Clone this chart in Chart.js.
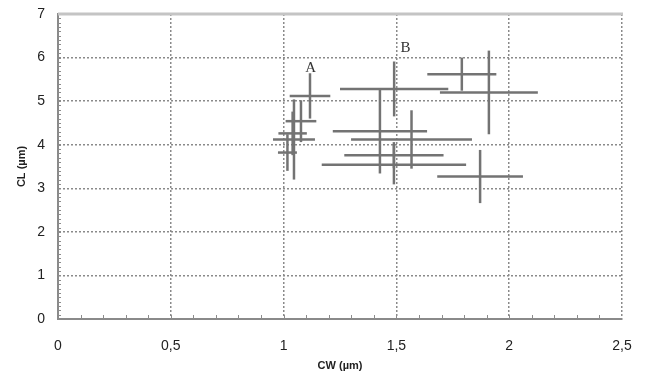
<!DOCTYPE html>
<html>
<head>
<meta charset="utf-8">
<script src="https://cdn.jsdelivr.net/npm/chart.js@4.4.1/dist/chart.umd.min.js"></script>
<style>
  html, body { margin: 0; padding: 0; background: #fff; }
  #wrap { width: 648px; height: 378px; }
</style>
</head>
<body>
<div id="wrap"><canvas id="chart" width="648" height="378"></canvas></div>
<script>
// cell width / cell length, mean and spread per sample
const cw    = [1.117, 1.077, 1.046, 1.04, 1.017, 1.49, 1.427, 1.567, 1.489, 1.489, 1.79, 1.91, 1.871];
const cl    = [5.12, 4.54, 4.12, 4.26, 3.82, 5.28, 4.31, 4.12, 3.76, 3.54, 5.62, 5.2, 3.27];
const cwErr = [0.09, 0.068, 0.093, 0.063, 0.042, 0.24, 0.209, 0.268, 0.22, 0.32, 0.153, 0.217, 0.19];
const clErr = [0.52, 0.48, 0.92, 0.5, 0.42, 0.63, 0.97, 0.67, 0.3, 0.45, 0.38, 0.96, 0.61];

const xTicks = [0, 0.5, 1, 1.5, 2, 2.5];
const yTicks = [0, 1, 2, 3, 4, 5, 6, 7];

const markText = ["A", "B"];
const markX = [1.12, 1.54];
const markY = [5.76, 6.22];

const SANS = "'Liberation Sans', Arial, sans-serif";
const BAR_COLOR = "#737373";

function crossDatasets() {
  const sets = [];
  cw.forEach((x, i) => {
    const y = cl[i];
    sets.push({
      data: [{ x: x - cwErr[i], y }, { x: x + cwErr[i], y }],
    });
    sets.push({
      data: [{ x, y: y - clErr[i] }, { x, y: y + clErr[i] }],
    });
  });
  return sets.map((s) => ({
    ...s,
    showLine: true,
    borderColor: BAR_COLOR,
    borderWidth: 2.5,
    pointRadius: 0,
    borderCapStyle: "butt",
  }));
}

const framePlugin = {
  id: "frame",
  beforeDatasetsDraw(chart) {
    const { ctx, chartArea: a, scales } = chart;
    ctx.save();
    // solid light top edge
    ctx.strokeStyle = "#c4c4c4";
    ctx.lineWidth = 3;
    ctx.beginPath();
    ctx.moveTo(a.left, a.top);
    ctx.lineTo(a.right + 1, a.top);
    ctx.stroke();
    // minor ticks along the axes
    ctx.strokeStyle = "#8c8c8c";
    ctx.lineWidth = 1;
    for (let k = 1; k < 25; k++) {
      const px = Math.round(scales.x.getPixelForValue(k / 10)) + 0.5;
      ctx.beginPath();
      ctx.moveTo(px, a.bottom);
      ctx.lineTo(px, a.bottom - 4);
      ctx.stroke();
    }
    for (let k = 1; k < 70; k++) {
      const py = Math.round(scales.y.getPixelForValue(k / 10)) + 0.5;
      ctx.beginPath();
      ctx.moveTo(a.left, py);
      ctx.lineTo(a.left + 3, py);
      ctx.stroke();
    }
    ctx.restore();
  },
  afterDatasetsDraw(chart) {
    const { ctx, scales } = chart;
    ctx.save();
    ctx.fillStyle = "#333";
    ctx.font = "15px 'Liberation Serif', 'Times New Roman', serif";
    ctx.textAlign = "center";
    ctx.textBaseline = "middle";
    markText.forEach((t, i) => {
      ctx.fillText(t, scales.x.getPixelForValue(markX[i]), scales.y.getPixelForValue(markY[i]));
    });
    ctx.restore();
  },
};

new Chart(document.getElementById("chart").getContext("2d"), {
  type: "scatter",
  data: { datasets: crossDatasets() },
  plugins: [framePlugin],
  options: {
    responsive: false,
    animation: false,
    layout: { padding: { top: 14, right: 26, left: 0, bottom: 0 } },
    plugins: { legend: { display: false }, tooltip: { enabled: false } },
    scales: {
      x: {
        type: "linear",
        min: 0,
        max: 2.5,
        afterBuildTicks: (s) => { s.ticks = xTicks.map((v) => ({ value: v })); },
        afterFit: (s) => { s.height = 59; s.paddingLeft = 0; s.paddingRight = 0; },
        ticks: {
          color: "#222",
          font: { family: SANS, size: 14 },
          padding: 19,
          maxRotation: 0,
          callback: (v) => String(v).replace(".", ","),
        },
        grid: { color: "#8a8a8a", lineWidth: 1.5, drawTicks: false },
        border: { display: true, color: "#8a8a8a", width: 2, dash: [2, 2] },
        title: {
          display: true,
          text: "CW (µm)",
          color: "#222",
          font: { family: SANS, size: 11, weight: "bold" },
          padding: { top: 0, bottom: 5 },
        },
      },
      y: {
        type: "linear",
        min: 0,
        max: 7,
        afterBuildTicks: (s) => { s.ticks = yTicks.map((v) => ({ value: v })); },
        afterFit: (s) => { s.width = 58; s.paddingTop = 0; s.paddingBottom = 0; },
        ticks: {
          color: "#222",
          font: { family: SANS, size: 14 },
          padding: 13,
        },
        grid: { color: "#8a8a8a", lineWidth: 1.5, drawTicks: false },
        border: { display: true, color: "#8a8a8a", width: 2, dash: [2, 2] },
        title: {
          display: true,
          text: "CL (µm)",
          color: "#222",
          font: { family: SANS, size: 11, weight: "bold" },
          padding: { top: 15, bottom: 0 },
        },
      },
    },
  },
});
</script>
</body>
</html>
